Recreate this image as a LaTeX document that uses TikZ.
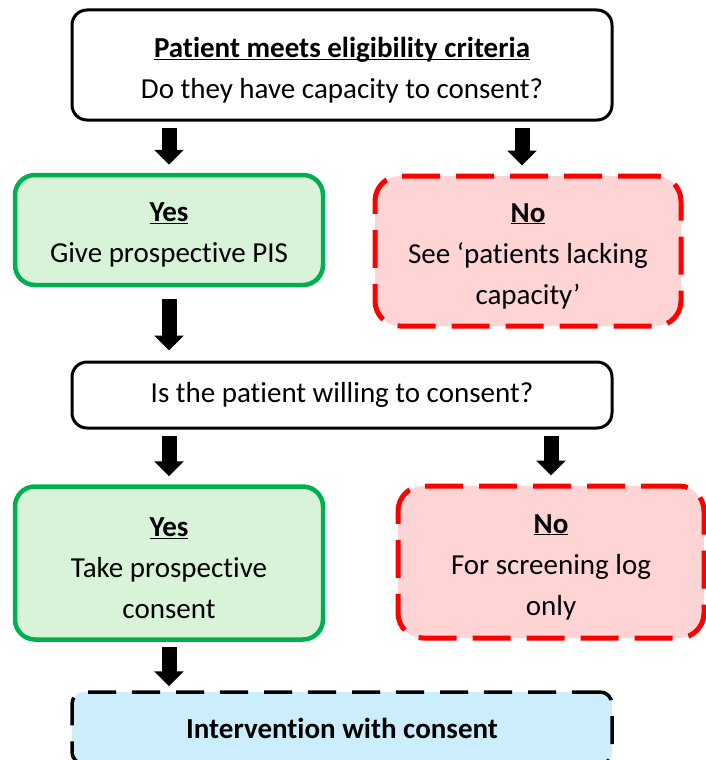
\documentclass[tikz,border=0pt]{standalone}
\usepackage{fontspec}
\setmainfont{Carlito}[Ligatures=NoCommon]
\usetikzlibrary{arrows.meta, positioning}

\definecolor{yesgreen}{HTML}{00B050}
\definecolor{yesfill}{HTML}{D8F3D8}
\definecolor{nored}{HTML}{FF0000}
\definecolor{nofill}{HTML}{FFD4D4}
\definecolor{endfill}{HTML}{CCEEFC}
\newcommand{\hdr}[1]{\underline{\raisebox{0pt}[\dimexpr\height+10pt\relax][0pt]{\textbf{#1}}}}

\begin{document}
\begin{tikzpicture}[x=1pt, y=-1pt, font=\fontsize{29}{41}\selectfont,
        question/.style={rectangle, draw, line width=3pt, rounded corners=15pt, align=center, minimum width=540pt},
        yesbox/.style={rectangle, draw=yesgreen, fill=yesfill, line width=4.5pt, rounded corners=20pt, align=center, minimum width=308pt},
        nobox/.style={rectangle, draw=nored, fill=nofill, line width=5pt, dash pattern=on 38pt off 16pt, rounded corners=25pt, align=center, minimum width=306pt},
        endbox/.style={rectangle, draw, fill=endfill, line width=3.5pt, dash pattern=on 28pt off 16pt, rounded corners=12pt, align=center, minimum width=540pt},
        line/.style={draw, line width=15pt, -{Triangle[width=29pt, length=15pt]}, shorten <=6pt, shorten >=8pt}]

        \useasboundingbox (0,0) rectangle (706,760);

        \node [question, minimum height=110pt] (elig) at (342,65) {\hdr{Patient meets eligibility criteria}\\Do they have capacity to consent?};
        \node [yesbox, minimum height=110pt] (yes1) at (169,230) {\hdr{Yes}\\Give prospective PIS};
        \node [nobox, minimum height=150pt] (no1) at (528,251) {\hdr{No}\\See ‘patients lacking\\capacity’};
        \node [question, minimum height=66pt] (willing) at (342,395) {Is the patient willing to consent?};
        \node [yesbox, minimum height=153pt] (yes2) at (169,563) {\hdr{Yes}\\Take prospective\\consent};
        \node [nobox, minimum height=152pt] (no2) at (551,562) {\hdr{No}\\For screening log\\only};
        \node [endbox, minimum height=72pt] (consent) at (342,728) {\textbf{Intervention with consent}};

        \path [line] (yes1.north |- elig.south) -- (yes1.north);
        \path [line] ([xshift=-6pt]no1.north |- elig.south) -- ([xshift=-6pt]no1.north);
        \path [line, shorten <=12pt, shorten >=10pt] (yes1.south) -- (yes1.south |- willing.north);
        \path [line] (yes2.north |- willing.south) -- (yes2.north);
        \path [line] (no2.north |- willing.south) -- (no2.north);
        \path [line, shorten <=5pt, shorten >=4pt] (yes2.south) -- (yes2.south |- consent.north);

    \end{tikzpicture}
\end{document}
